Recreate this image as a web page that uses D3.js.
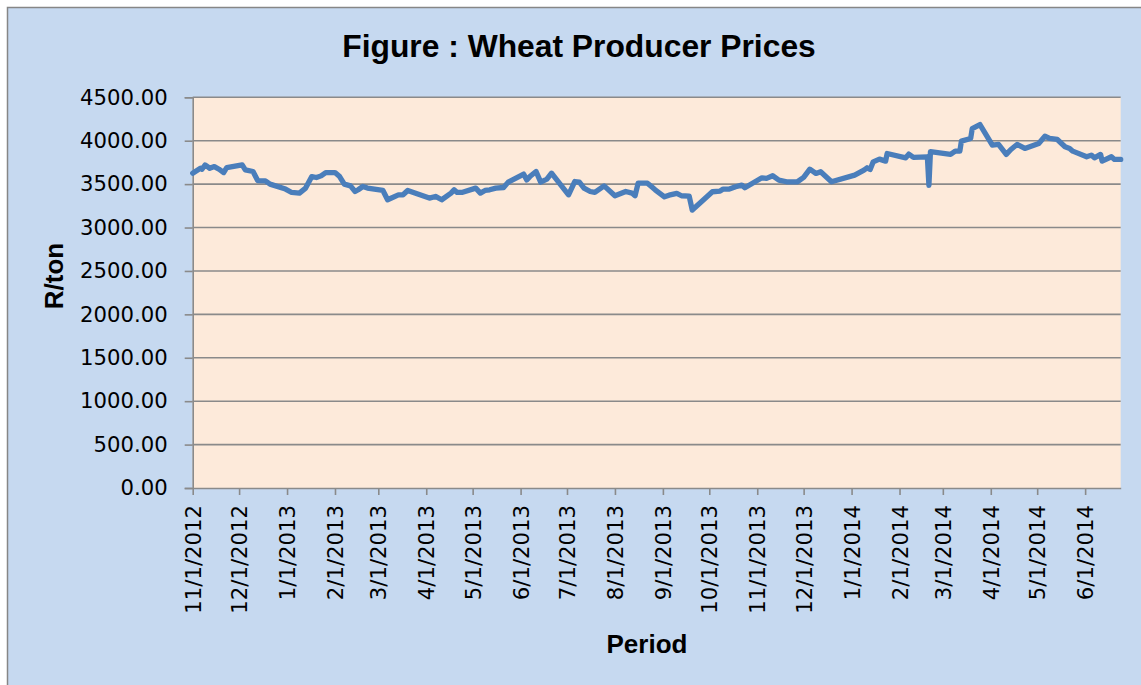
<!DOCTYPE html>
<html>
<head>
<meta charset="utf-8">
<script src="https://d3js.org/d3.v7.min.js"></script>
<style>
    body { margin: 0; background: #ffffff; }
    svg { display: block; }
</style>
</head>
<body>
<svg id="chart" width="1141" height="685"></svg>
<script>
/** Wheat producer prices */
const dates = [
    "2012-11-01", "2012-11-06", "2012-11-07", "2012-11-09", "2012-11-12", "2012-11-15", "2012-11-18", "2012-11-21", "2012-11-23",
    "2012-12-03", "2012-12-05", "2012-12-10", "2012-12-13", "2012-12-18", "2012-12-21", "2012-12-31",
    "2013-01-04", "2013-01-09", "2013-01-13", "2013-01-17", "2013-01-20", "2013-01-23", "2013-01-26",
    "2013-02-01", "2013-02-04", "2013-02-07", "2013-02-11", "2013-02-14", "2013-02-16", "2013-02-19", "2013-02-22",
    "2013-03-04", "2013-03-07", "2013-03-14", "2013-03-17", "2013-03-20",
    "2013-04-03", "2013-04-07", "2013-04-11", "2013-04-17", "2013-04-19", "2013-04-21", "2013-04-24",
    "2013-05-03", "2013-05-06", "2013-05-09", "2013-05-12", "2013-05-16", "2013-05-21", "2013-05-24",
    "2013-06-03", "2013-06-05", "2013-06-07", "2013-06-11", "2013-06-14", "2013-06-18", "2013-06-21",
    "2013-07-02", "2013-07-06", "2013-07-09", "2013-07-12", "2013-07-16", "2013-07-19", "2013-07-25",
    "2013-08-01", "2013-08-08", "2013-08-12", "2013-08-14", "2013-08-16", "2013-08-22", "2013-08-24", "2013-08-27",
    "2013-09-02", "2013-09-05", "2013-09-10", "2013-09-13", "2013-09-18", "2013-09-20",
    "2013-10-03", "2013-10-08", "2013-10-10", "2013-10-14", "2013-10-18", "2013-10-22", "2013-10-24",
    "2013-11-04", "2013-11-07", "2013-11-11", "2013-11-15", "2013-11-20", "2013-11-27",
    "2013-12-01", "2013-12-05", "2013-12-09", "2013-12-12", "2013-12-19",
    "2014-01-03", "2014-01-09", "2014-01-11", "2014-01-13", "2014-01-15", "2014-01-19", "2014-01-23", "2014-01-24",
    "2014-02-05", "2014-02-07", "2014-02-10", "2014-02-19", "2014-02-20", "2014-02-21",
    "2014-03-06", "2014-03-09", "2014-03-12", "2014-03-13", "2014-03-19", "2014-03-20", "2014-03-25",
    "2014-04-02", "2014-04-06", "2014-04-11", "2014-04-14", "2014-04-18", "2014-04-23",
    "2014-05-02", "2014-05-06", "2014-05-09", "2014-05-14", "2014-05-19", "2014-05-22", "2014-05-24",
    "2014-06-02", "2014-06-05", "2014-06-07", "2014-06-11", "2014-06-12", "2014-06-18", "2014-06-20", "2014-06-24"
];

const prices = [
    3626, 3683, 3672, 3721, 3683, 3702, 3672, 3633, 3690,
    3721, 3664, 3645, 3541, 3538, 3500, 3443,
    3404, 3396, 3454, 3587, 3576, 3595, 3633,
    3633, 3587, 3500, 3480, 3415, 3435, 3473, 3454,
    3427, 3320, 3377, 3377, 3427,
    3339, 3358, 3320, 3397, 3435, 3404, 3404,
    3454, 3397, 3427, 3435, 3454, 3461, 3523,
    3615, 3549, 3587, 3645, 3523, 3557, 3626,
    3377, 3530, 3523, 3454, 3415, 3404, 3480,
    3366, 3415, 3397, 3366, 3511, 3511, 3480, 3435,
    3354, 3373, 3393, 3366, 3362, 3201,
    3412, 3420, 3443, 3443, 3469, 3489, 3458,
    3573, 3566, 3596, 3546, 3527, 3527,
    3577, 3672, 3623, 3642, 3527,
    3604, 3662, 3688, 3669, 3757, 3788, 3765, 3853,
    3803, 3846, 3808, 3815, 3485, 3873,
    3842, 3880, 3880, 3995, 4026, 4140, 4186,
    3949, 3957, 3842, 3899, 3957, 3911,
    3968, 4052, 4026, 4014, 3930, 3911, 3880,
    3815, 3834, 3803, 3842, 3765, 3815, 3784, 3784
];

const yTicks = [0, 500, 1000, 1500, 2000, 2500, 3000, 3500, 4000, 4500];
const dateRange = ["2012-11-01", "2014-06-24"];

const titleText = "Figure : Wheat Producer Prices";
const xTitle = "Period";
const yTitle = "R/ton";

/** Class drawing the price chart. */
class PriceChart {
    constructor() {
        this.margin = {left: 192.7, right: 1120.7, top: 97.3, bottom: 488};
        let parse = d3.timeParse("%Y-%m-%d");
        this.series = dates.map((d, i) => ({date: parse(d), price: prices[i]}));

        this.xScale = d3.scaleTime()
            .domain(dateRange.map(parse))
            .range([this.margin.left, this.margin.right]);

        this.yScale = d3.scaleLinear()
            .domain([0, 4500])
            .range([this.margin.bottom, this.margin.top]);
    }

    draw() {
        let that = this;
        let svg = d3.select("#chart");
        let m = this.margin;

        // chart frame
        svg.append("rect")
            .attr("x", 7.5).attr("y", 7.5)
            .attr("width", 1150).attr("height", 700)
            .attr("fill", "#c6d9f0")
            .attr("stroke", "#868686")
            .attr("stroke-width", 1.5);

        // plot area
        svg.append("rect")
            .attr("x", m.left).attr("y", m.top)
            .attr("width", m.right - m.left)
            .attr("height", m.bottom - m.top)
            .attr("fill", "#fdeada");

        // gridlines
        svg.append("g")
            .selectAll("line")
            .data(yTicks.filter(d => d > 0))
            .join("line")
            .attr("x1", m.left).attr("x2", m.right)
            .attr("y1", d => that.yScale(d)).attr("y2", d => that.yScale(d))
            .attr("stroke", "#8a8a8a")
            .attr("stroke-width", 1.6);

        // y axis
        let yAxis = svg.append("g")
            .attr("transform", `translate(${m.left},0)`)
            .call(d3.axisLeft(this.yScale)
                .tickValues(yTicks)
                .tickFormat(d3.format(".2f"))
                .tickSize(8)
                .tickPadding(17));
        yAxis.selectAll("path, line").attr("stroke", "#8a8a8a").attr("stroke-width", 1.6);
        yAxis.selectAll("text")
            .attr("fill", "#000")
            .style("font-family", "'DejaVu Sans', sans-serif")
            .style("font-size", "21.2px");

        // x axis
        let xAxis = svg.append("g")
            .attr("transform", `translate(0,${m.bottom})`)
            .call(d3.axisBottom(this.xScale)
                .ticks(d3.timeMonth.every(1))
                .tickFormat(d3.timeFormat("%-m/%-d/%Y"))
                .tickSize(7)
                .tickSizeOuter(0));
        xAxis.selectAll("path, line").attr("stroke", "#8a8a8a").attr("stroke-width", 1.6);
        xAxis.selectAll("text")
            .attr("fill", "#000")
            .attr("transform", "rotate(-90)")
            .attr("x", -17)
            .attr("y", 0)
            .attr("dy", "0.36em")
            .attr("text-anchor", "end")
            .style("font-family", "'DejaVu Sans', sans-serif")
            .style("font-size", "21.2px");

        // price line
        let line = d3.line()
            .x(d => that.xScale(d.date))
            .y(d => that.yScale(d.price));

        svg.append("path")
            .datum(this.series)
            .attr("d", line)
            .attr("fill", "none")
            .attr("stroke", "#4a7ebb")
            .attr("stroke-width", 5.3)
            .attr("stroke-linejoin", "round")
            .attr("stroke-linecap", "round");

        // titles
        svg.append("text")
            .attr("x", 579).attr("y", 56.7)
            .attr("text-anchor", "middle")
            .style("font-family", "'Liberation Sans', Arial, sans-serif")
            .style("font-weight", "bold")
            .style("font-size", "31.8px")
            .text(titleText);

        svg.append("text")
            .attr("x", 647).attr("y", 652.7)
            .attr("text-anchor", "middle")
            .style("font-family", "'Liberation Sans', Arial, sans-serif")
            .style("font-weight", "bold")
            .style("font-size", "26px")
            .text(xTitle);

        svg.append("text")
            .attr("transform", "translate(63,276) rotate(-90)")
            .attr("text-anchor", "middle")
            .style("font-family", "'Liberation Sans', Arial, sans-serif")
            .style("font-weight", "bold")
            .style("font-size", "26px")
            .text(yTitle);
    }
}

let chart = new PriceChart();
chart.draw();
</script>
</body>
</html>
